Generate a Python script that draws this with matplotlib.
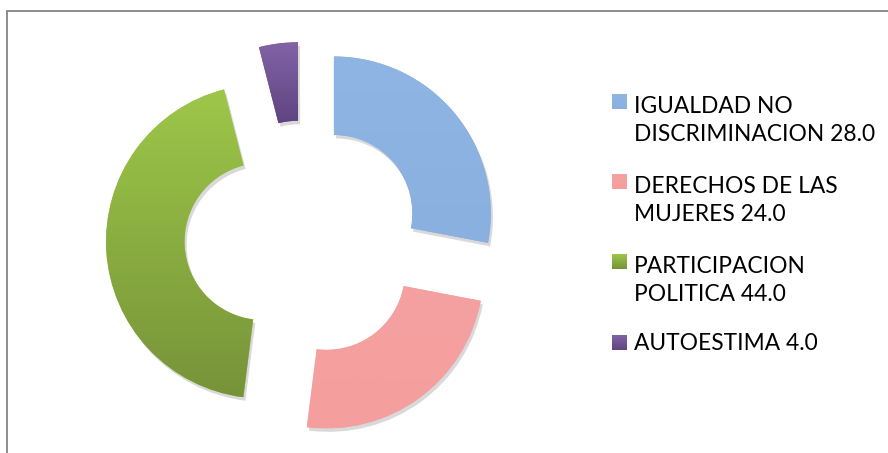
import numpy as np
import matplotlib
matplotlib.use("Agg")
import matplotlib.pyplot as plt
import matplotlib.patheffects as pe
from matplotlib.patches import Rectangle
from matplotlib.colors import LinearSegmentedColormap

labels = ["IGUALDAD NO\nDISCRIMINACION", "DERECHOS DE LAS\nMUJERES", "PARTICIPACION\nPOLITICA", "AUTOESTIMA"]
values = [28.0, 24.0, 44.0, 4.0]
# top / bottom colours of each wedge gradient
top_colors = ["#8EB5E4", "#F5A1A1", "#9DC749", "#8163A6"]
bottom_colors = ["#8AB0E0", "#F59E9E", "#779339", "#5F4580"]

W, H = 888, 453
fig = plt.figure(figsize=(W / 100, H / 100), dpi=100)
ax = fig.add_axes([0, 0, 1, 1])

# pie geometry in pixels: centre (303, 239), radius 157
cx, cy, rad = 303, 239, 157
wedges, _ = ax.pie(values, radius=1, startangle=90, counterclock=False,
                   explode=[0.255] * len(values),
                   wedgeprops=dict(width=0.5, linewidth=0),
                   colors=top_colors)

grad = np.linspace(0, 1, 256).reshape(-1, 1)
for w, c1, c2 in zip(wedges, top_colors, bottom_colors):
    w.set_path_effects([pe.SimplePatchShadow(offset=(1.5, -2.5), shadow_rgbFace="k", alpha=0.15),
                        pe.Normal()])
    cmap = LinearSegmentedColormap.from_list("g", [c1, c2])
    bounds = w.get_path().transformed(w.get_patch_transform()).get_extents()
    im = ax.imshow(grad, cmap=cmap, aspect="auto",
                   extent=[bounds.x0, bounds.x1, bounds.y0, bounds.y1],
                   origin="upper", zorder=w.get_zorder() + 0.1)
    im.set_clip_path(w)

ax.set_xlim(-cx / rad, (W - cx) / rad)
ax.set_ylim(-(H - cy) / rad, cy / rad)
ax.set_aspect("auto")
ax.axis("off")

# chart border (top and left visible)
fig.patches.append(Rectangle((7 / W, -0.1), 1.2, (H - 11) / H + 0.1,
                             transform=fig.transFigure, fill=False,
                             edgecolor="#858585", linewidth=1.3))

# legend
base = [109, 189, 269, 350]  # baseline of first line, px from top
line_px = 32
for lab, v, c1, c2, b in zip(labels, values, top_colors, bottom_colors, base):
    text = f"{lab} {v:.1f}"
    nl = text.count("\n")
    fig.text(634 / W, 1 - (b + nl * line_px) / H, text, fontsize=16.4, family="Lato",
             va="baseline", ha="left", color="black", linespacing=1.4)
    sq_ax = fig.add_axes([612 / W, 1 - b / H, 15 / W, 15 / H])
    sq_ax.imshow(grad, cmap=LinearSegmentedColormap.from_list("s", [c1, c2]),
                 aspect="auto", extent=[0, 1, 0, 1])
    sq_ax.axis("off")

fig.savefig("out.png", dpi=100)
